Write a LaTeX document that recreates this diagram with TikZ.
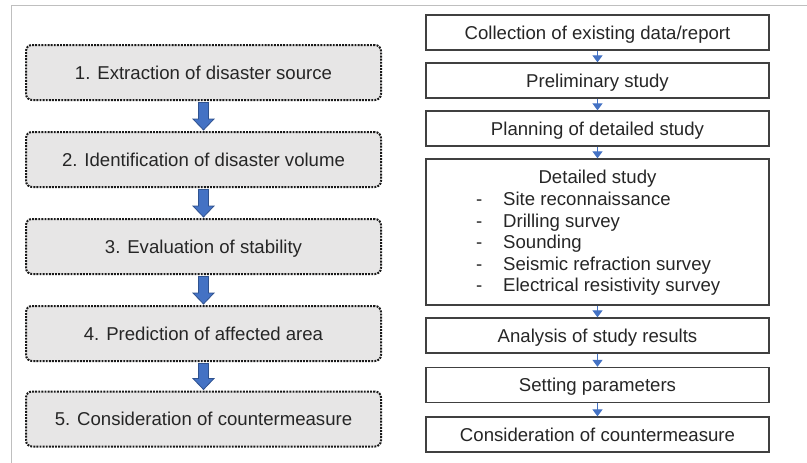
\documentclass[tikz,border=0pt]{standalone}
\usepackage{fontspec}
\setmainfont{Liberation Sans}
\usetikzlibrary{arrows.meta,calc}
\definecolor{txt}{HTML}{262626}
\definecolor{boxfill}{HTML}{E7E6E6}
\definecolor{blu}{HTML}{4472C4}
\definecolor{bluedge}{HTML}{2F528F}
\definecolor{edgec}{HTML}{404040}
\definecolor{framec}{HTML}{BFBFBF}
\begin{document}
\begin{tikzpicture}[x=1pt,y=-1pt,
  stepL/.style={draw=black!90, line width=2pt, dash pattern=on 1.9pt off 1.2pt,
    rounded corners=6pt, fill=boxfill, minimum width=355pt, minimum height=55pt,
    text=txt, font=\fontsize{18.6}{21.6}\selectfont, inner sep=0pt,
    text height=13.6pt, text depth=0.2pt},
  stepR/.style={draw=edgec, line width=1.3pt, fill=white, minimum width=343pt,
    minimum height=35pt, text=txt, font=\fontsize{18.6}{21.6}\selectfont, inner sep=0pt,
    text height=13.6pt, text depth=0.2pt},
  thinarrow/.style={draw=blu, line width=1.2pt, -{Triangle[width=10pt,length=7pt]}},
  blk/.style={fill=blu, draw=bluedge, line width=0.8pt},
  plain/.style={text=txt, font=\fontsize{18.6}{21.6}\selectfont, inner sep=0pt}]
\useasboundingbox (0,0) rectangle (807,463);
\draw[framec, line width=1pt] (11,463) -- (11,5) -- (807,5);

% left column
\node[stepL] (l1) at (203.5,72.5) {1. Extraction of disaster source};
\node[stepL] (l2) at (203.5,159.5) {2. Identification of disaster volume};
\node[stepL] (l3) at (203.5,246.5) {3. Evaluation of stability};
\node[stepL] (l4) at (203.5,333.5) {4. Prediction of affected area};
\node[stepL] (l5) at (203.5,419) {5. Consideration of countermeasure};

\foreach \a/\b in {l1/l2,l2/l3,l3/l4,l4/l5}{
  \draw[blk] let \p1=($(\a.south)+(0,1.5)$), \p2=($(\b.north)+(0,-1)$) in
    (\x1-5pt,\y1) -- (\x1-5pt,\y2+11pt) -- (\x1-10.5pt,\y2+11pt) -- (\x1,\y2)
    -- (\x1+10.5pt,\y2+11pt) -- (\x1+5pt,\y2+11pt) -- (\x1+5pt,\y1) -- cycle;
}

% right column
\node[stepR] (r1) at (597.5,32.5) {Collection of existing data/report};
\node[stepR] (r2) at (597.5,80.5) {Preliminary study};
\node[stepR] (r3) at (597.5,128.5) {Planning of detailed study};
\node[stepR, minimum height=146pt] (r4) at (597.5,232) {};
\node[plain, text height=13.6pt, text depth=0.2pt] (r4t) at (597.5,177) {Detailed study};
\node[plain, anchor=base west] (r4l) at (476,205.5) {\begin{tabular}[t]{@{}p{27pt}@{}l@{}}
- & Site reconnaissance\\
- & Drilling survey\\
- & Sounding\\
- & Seismic refraction survey\\
- & Electrical resistivity survey
\end{tabular}};
\node[stepR] (r5) at (597.5,335.5) {Analysis of study results};
\node[stepR] (r6) at (597.5,385) {Setting parameters};
\node[stepR] (r7) at (597.5,434.5) {Consideration of countermeasure};

\foreach \a/\b in {r1/r2,r2/r3,r3/r4,r4/r5,r5/r6,r6/r7}{
  \draw[thinarrow] (\a.south) -- (\b.north);
}
\end{tikzpicture}
\end{document}
